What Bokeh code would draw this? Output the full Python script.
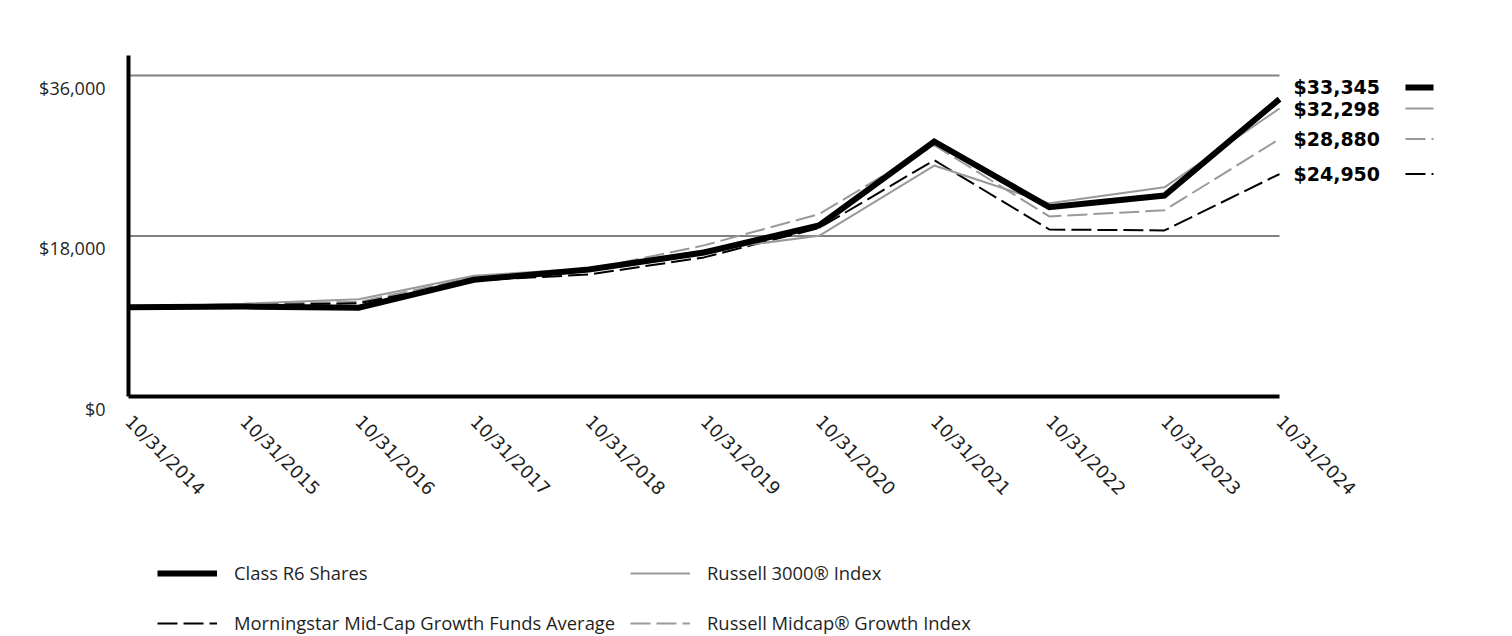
import math
from bokeh.plotting import figure
from bokeh.models import Range1d, FixedTicker, Legend, LegendItem
from bokeh.core.properties import value
from bokeh.embed import file_html
from bokeh.resources import INLINE

# ---------------- data ----------------
years = [2014, 2015, 2016, 2017, 2018, 2019, 2020, 2021, 2022, 2023, 2024]
x_labels = ["10/31/2014", "10/31/2015", "10/31/2016", "10/31/2017", "10/31/2018",
            "10/31/2019", "10/31/2020", "10/31/2021", "10/31/2022", "10/31/2023",
            "10/31/2024"]
y_ticks = [0, 18000, 36000]
y_tick_labels = ["$0", "$18,000", "$36,000"]

class_r6 = [10000, 10090, 9950, 13090, 14240, 16150, 19180, 28600, 21230, 22540, 33345]
russell_3000 = [10000, 10400, 10900, 13550, 14350, 16370, 18020, 25900, 21660, 23460, 32298]
morningstar = [10000, 10250, 10450, 13010, 13680, 15600, 18900, 26500, 18730, 18620, 24950]
russell_midcap = [10000, 10380, 10600, 13350, 14250, 16950, 20450, 28200, 20190, 20880, 28880]

names = ["Class R6 Shares", "Russell 3000\u00ae Index",
         "Morningstar Mid-Cap Growth Funds Average", "Russell Midcap\u00ae Growth Index"]

# ---------------- styles / layout ----------------
BLACK = "#000000"
GRAY = "#999999"
GRID = "#808080"
TXT = "#1f1f1f"
DASH = "20 6"
W, H = 1512, 636
LEFT_PX, RIGHT_PX = 128, 1279          # pixel columns of first / last year
ZERO_PX, TOP_PX = 396, 75               # pixel rows of $0 and top gridline
px_per_year = (RIGHT_PX - LEFT_PX) / (years[-1] - years[0])
px_per_unit = (ZERO_PX - TOP_PX) / y_ticks[-1]
x_start = years[0] - LEFT_PX / px_per_year
x_end = years[0] + (W - LEFT_PX) / px_per_year
y_start = -(H - ZERO_PX) / px_per_unit
y_end = ZERO_PX / px_per_unit
y_axis_top = 38200

p = figure(width=W, height=H,
           x_range=Range1d(x_start, x_end), y_range=Range1d(y_start, y_end),
           output_backend="svg", toolbar_location=None,
           min_border=0, min_border_left=0, min_border_right=0,
           min_border_top=0, min_border_bottom=0)
p.outline_line_color = None
p.xgrid.visible = False
p.ygrid.visible = False
p.background_fill_color = "white"
p.border_fill_color = "white"

# x axis at $0
p.xaxis.fixed_location = 0
p.xaxis.ticker = FixedTicker(ticks=years)
p.xaxis.major_label_overrides = {y: l for y, l in zip(years, x_labels)}
p.xaxis.bounds = (years[0], years[-1])
p.xaxis.axis_line_width = 4
p.xaxis.axis_line_color = BLACK
p.xaxis.major_tick_line_color = None
p.xaxis.minor_tick_line_color = None
p.xaxis.major_label_orientation = -math.pi / 4
p.xaxis.major_label_standoff = 16
p.xaxis.major_label_text_font = "DejaVu Sans"
p.xaxis.major_label_text_font_size = "18px"
p.xaxis.major_label_text_color = TXT

# y axis at the first year; its labels are drawn a little below the gridlines
p.yaxis.fixed_location = years[0]
p.yaxis.ticker = FixedTicker(ticks=y_ticks)
p.yaxis.major_label_overrides = {t: "" for t in y_ticks}
p.yaxis.bounds = (0, y_axis_top)
p.yaxis.axis_line_width = 4
p.yaxis.axis_line_color = BLACK
p.yaxis.major_tick_line_color = None
p.yaxis.minor_tick_line_color = None

p.text(x=[years[0]] * len(y_ticks), y=y_ticks, text=y_tick_labels,
       x_offset=-23, y_offset=12, text_align="right", text_baseline="middle",
       text_font=value("Open Sans"), text_font_size="18px", text_color=TXT)

# gridlines spanning only the data period
grid_vals = [t for t in y_ticks if t > 0]
p.segment(x0=[years[0]] * len(grid_vals), x1=[years[-1]] * len(grid_vals),
          y0=grid_vals, y1=grid_vals, line_color=GRID, line_width=2)

# series
r_mid = p.line(years, russell_midcap, line_color=GRAY, line_width=2, line_dash=DASH)
r_ms = p.line(years, morningstar, line_color=BLACK, line_width=2, line_dash=DASH)
r_3000 = p.line(years, russell_3000, line_color=GRAY, line_width=2)
r_r6 = p.line(years, class_r6, line_color=BLACK, line_width=6, line_join="miter")

# end-value labels with small line keys
end_values = [class_r6[-1], russell_3000[-1], russell_midcap[-1], morningstar[-1]]
end_text = [f"${v:,}" for v in end_values]
label_nudge = [1320, 0, 0, 0]
label_y = [v + n for v, n in zip(end_values, label_nudge)]
p.text(x=[years[-1]] * 4, y=label_y, text=end_text, x_offset=14,
       text_align="left", text_baseline="middle",
       text_font=value("DejaVu Sans"), text_font_style="bold",
       text_font_size="19px", text_color=BLACK)

key_styles = [
    dict(line_color=BLACK, line_width=6, line_dash="solid"),
    dict(line_color=GRAY, line_width=2, line_dash="solid"),
    dict(line_color=GRAY, line_width=2, line_dash=DASH),
    dict(line_color=BLACK, line_width=2, line_dash=DASH),
]
key_x0 = years[-1] + 126 / px_per_year
key_x1 = years[-1] + 154 / px_per_year
for ly, st in zip(label_y, key_styles):
    p.segment(x0=[key_x0], x1=[key_x1], y0=[ly], y1=[ly], **st)

# bottom legend, two columns
def make_legend(items, loc):
    return Legend(items=items, location=loc, orientation="vertical",
                  glyph_width=60, glyph_height=20, label_standoff=17,
                  label_height=20, spacing=25, padding=0, margin=0,
                  border_line_color=None, background_fill_alpha=0,
                  label_text_font="Open Sans", label_text_font_size="18.4px",
                  label_text_color=TXT)

legA = make_legend([LegendItem(label=names[0], renderers=[r_r6]),
                    LegendItem(label=names[2], renderers=[r_ms])], (157, 1))
legB = make_legend([LegendItem(label=names[1], renderers=[r_3000]),
                    LegendItem(label=names[3], renderers=[r_mid])], (630, 1))
p.add_layout(legA)
p.add_layout(legB)

open("out.html", "w").write(file_html(p, INLINE))
